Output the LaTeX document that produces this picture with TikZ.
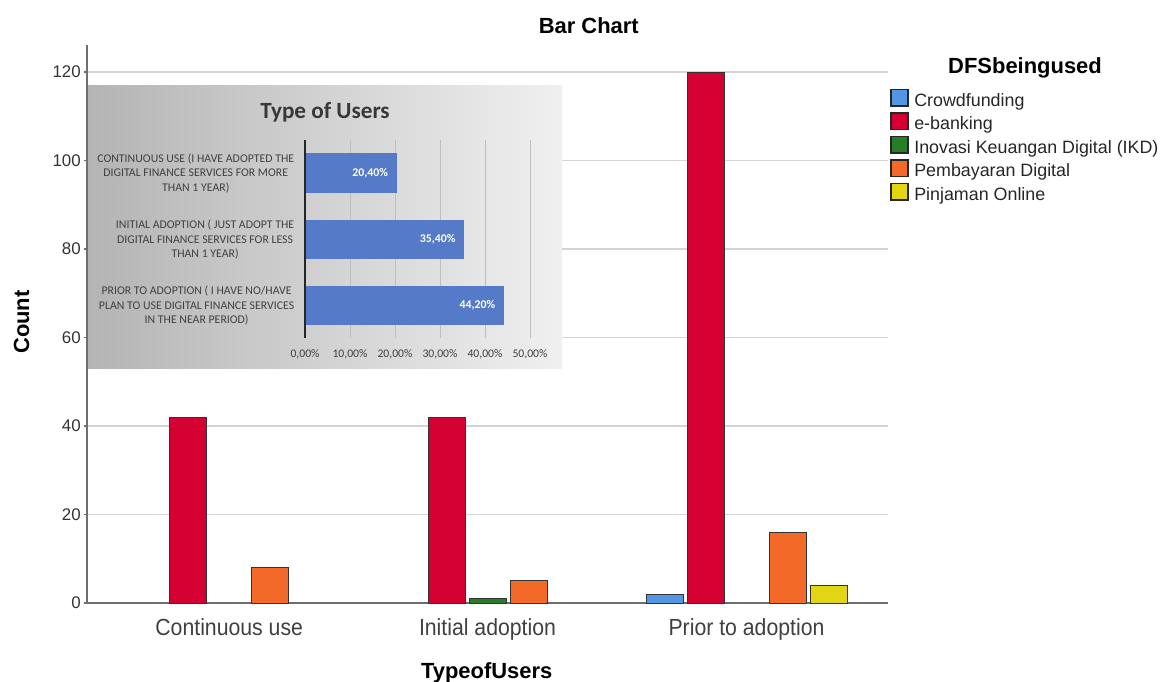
\documentclass[tikz,border=0pt]{standalone}
\usepackage{fontspec}
\setmainfont{Liberation Sans}
\newfontfamily\calibfont{Carlito}
\usepackage{xcolor}
\usepackage{tikz}
\usetikzlibrary{positioning}
\definecolor{crowdblue}{RGB}{85, 150, 228}
\definecolor{ebankred}{RGB}{213, 0, 50}
\definecolor{ikdgreen}{RGB}{40, 125, 40}
\definecolor{payorange}{RGB}{242, 105, 40}
\definecolor{pinjyellow}{RGB}{225, 213, 20}
\definecolor{gridgray}{RGB}{212, 212, 212}
\definecolor{axisgray}{RGB}{110, 110, 110}
\definecolor{insetblue}{RGB}{84, 122, 200}
\definecolor{insettext}{RGB}{64, 64, 64}
\definecolor{insetdark}{RGB}{180, 180, 180}
\definecolor{insetlight}{RGB}{240, 240, 240}
\tikzstyle{gridline} = [line width=1.1pt, color=gridgray]
\tikzstyle{axisline} = [line width=1pt, color=axisgray]
\tikzstyle{bar} = [draw=black!80, line width=0.7pt]
\tikzstyle{heading} = [
    font=\fontsize{15.6}{18}\selectfont\bfseries,
    inner sep=0pt,
    anchor=base
]
\tikzstyle{ticklabel} = [
    font=\fontsize{12}{14}\selectfont,
    color=black!80,
    inner sep=0pt,
    anchor=east
]
\tikzstyle{catlabel} = [
    font=\fontsize{16.6}{19}\selectfont,
    color=black!75,
    xscale=0.91,
    inner sep=0pt,
    anchor=base
]
\tikzstyle{legendbox} = [draw=black!85, line width=0.8pt]
\tikzstyle{legendtext} = [
    font=\fontsize{12.7}{15}\selectfont,
    color=black!85,
    inner sep=0pt,
    anchor=base west
]
\tikzstyle{insetcat} = [
    font=\calibfont\fontsize{8.4}{10.45}\selectfont,
    color=insettext,
    align=center,
    inner sep=0pt,
    anchor=east
]
\tikzstyle{insetvalue} = [
    font=\calibfont\fontsize{8.4}{10}\selectfont\bfseries,
    color=white,
    inner sep=0pt,
    anchor=east
]
\tikzstyle{insettick} = [
    font=\calibfont\fontsize{8.3}{10}\selectfont,
    color=insettext,
    inner sep=0pt
]

\begin{document}
\begin{tikzpicture}[x=0.025cm, y=-0.025cm]
        \useasboundingbox (0, 0) rectangle (1161, 682);

        % Grid and axes
        \foreach \v in {20,40,...,120}
            \draw[gridline] (87, {603-4.425*\v}) -- (888, {603-4.425*\v});
        \draw[axisline] (87, 45) -- (87, 603) -- (888, 603);
        \foreach \v in {0,20,...,120} {
            \draw[axisline] (83.5, {603-4.425*\v}) -- (87, {603-4.425*\v});
            \node[ticklabel] (ytick\v) at (81, {603-4.425*\v}) {\v};
        }

        % Bars
        \foreach \x/\v/\c in {169.2/42/ebankred, 251.6/8/payorange,
                              428.2/42/ebankred, 469.4/1/ikdgreen, 510.6/5/payorange,
                              646/2/crowdblue, 687.2/120/ebankred, 769.6/16/payorange, 810.8/4/pinjyellow}
            \draw[bar, fill=\c] (\x, 603) rectangle ({\x+37}, {603-4.425*\v});

        % Inset chart
        \fill[left color=insetdark, right color=insetlight] (88, 86) rectangle (562, 368);
        \node[font=\calibfont\fontsize{16.5}{19}\selectfont\bfseries, color=black!78, inner sep=0pt, anchor=base] (intitle) at (325, 118.3) {Type of Users};
        \foreach \k/\p in {0/0, 1/10, 2/20, 3/30, 4/40, 5/50} {
            \draw[color=black!25, line width=0.6pt] ({305+45*\k}, 140) -- ({305+45*\k}, 338);
            \node[insettick] (intick\k) at ({305+45*\k}, 354) {\p,00\%};
        }
        \fill[insetblue] (305, 153.3) rectangle (396.8, 193.3);
        \fill[insetblue] (305, 220) rectangle (464.3, 259.3);
        \fill[insetblue] (305, 286) rectangle (503.9, 325);
        \draw[color=black!85, line width=1pt] (305, 140) -- (305, 338);
        \node[insetvalue] (invalcont) at (388.3, 173.3) {20,40\%};
        \node[insetvalue] (invalinit) at (455.8, 239.7) {35,40\%};
        \node[insetvalue] (invalprior) at (495.4, 305.5) {44,20\%};
        \node[insetcat] (incont) at (294.5, 173.3) {CONTINUOUS USE (I HAVE ADOPTED THE\\DIGITAL FINANCE SERVICES FOR MORE\\THAN 1 YEAR)};
        \node[insetcat] (ininit) at (294.5, 239.7) {INITIAL ADOPTION ( JUST ADOPT THE\\DIGITAL FINANCE SERVICES FOR LESS\\THAN 1 YEAR)};
        \node[insetcat] (inprior) at (294.5, 305.5) {PRIOR TO ADOPTION ( I HAVE NO/HAVE\\PLAN TO USE DIGITAL FINANCE SERVICES\\IN THE NEAR PERIOD)};

        % Titles
        \node[heading] (title) at (588.8, 33.3) {Bar Chart};
        \node[heading] (xtitle) at (486.7, 678.3) {TypeofUsers};
        \node[heading, rotate=90] (ytitle) at (29, 322) {Count};
        \node[catlabel] (catcont) at (229.2, 635) {Continuous use};
        \node[catlabel] (catinit) at (487.5, 635) {Initial adoption};
        \node[catlabel] (catprior) at (746.5, 635) {Prior to adoption};

        % Legend
        \node[heading] (legtitle) at (1025, 73.3) {DFSbeingused};
        \foreach \i/\c/\t in {0/crowdblue/Crowdfunding, 1/ebankred/e-banking,
                              2/ikdgreen/Inovasi Keuangan Digital (IKD),
                              3/payorange/Pembayaran Digital, 4/pinjyellow/Pinjaman Online} {
            \draw[legendbox, fill=\c] (891, {89.5+23.5*\i}) rectangle (908, {106+23.5*\i});
            \node[legendtext] (leg\i) at (914, {106.5+23.5*\i}) {\t};
        }
    \end{tikzpicture}
\end{document}
